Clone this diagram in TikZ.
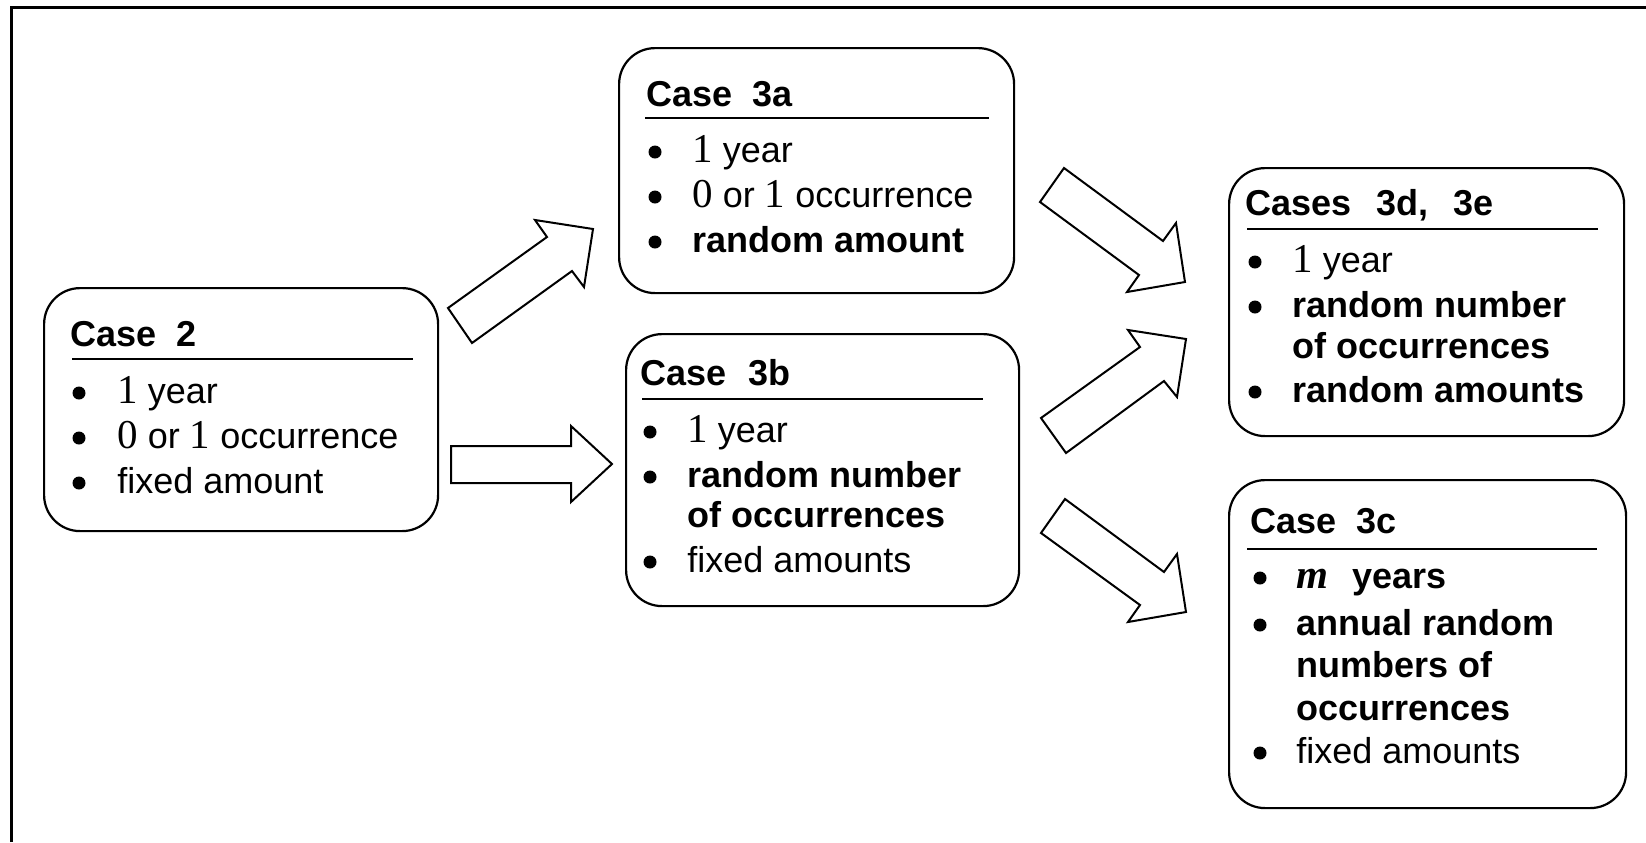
\documentclass[tikz,border=0pt]{standalone}
\usepackage{fontspec}
\setmainfont{Liberation Sans}
\newfontfamily\numfont{Liberation Serif}
% serif figures and symbols inside the sans text
\newcommand\nm[1]{{\numfont\fontsize{20.5pt}{24pt}\selectfont #1}}

\begin{document}
\begin{tikzpicture}[
  x=0.5pt, y=-0.5pt,
  font=\fontsize{18pt}{22pt}\selectfont,
  casebox/.style={draw, line width=1.1pt, rounded corners=18pt, anchor=north west, inner sep=0pt},
  ttl/.style={anchor=base west, inner sep=0pt, font=\fontsize{18pt}{22pt}\selectfont\bfseries},
  itm/.style={anchor=base west, inner sep=0pt},
  bul/.style={circle, fill, inner sep=0pt, minimum size=6.5pt},
  hrule/.style={line width=1pt},
  blockarrow/.style={draw, line width=1pt, line join=miter, fill=white},
  frameline/.style={line width=1.5pt}
]
\useasboundingbox (0,0) rectangle (1646,842);

% outer frame
\draw[frameline] (11,842) -- (11,7) -- (1646,7);

% ---------- Case 2 ----------
\node[casebox, minimum width=197pt, minimum height=121.5pt] (c2) at (43,287) {};
\node[ttl] (c2t) at (70,346) {Case\hspace{10pt}2};
\draw[hrule] (72,359) -- (413,359);
\node[bul] (c2b1) at (79,393) {};
\node[itm] (c2i1) at (117,403) {\nm{1} year};
\node[bul] (c2b2) at (79,438) {};
\node[itm] (c2i2) at (117,448) {\nm{0} or \nm{1} occurrence};
\node[bul] (c2b3) at (79,483) {};
\node[itm] (c2i3) at (117,493) {fixed amount};

% ---------- Case 3a ----------
\node[casebox, minimum width=197.5pt, minimum height=122.5pt] (c3a) at (618,47) {};
\node[ttl] (c3at) at (646,106) {Case\hspace{10pt}3a};
\draw[hrule] (645,118) -- (989,118);
\node[bul] (c3ab1) at (655,152) {};
\node[itm] (c3ai1) at (692,162) {\nm{1} year};
\node[bul] (c3ab2) at (655,197) {};
\node[itm] (c3ai2) at (692,207) {\nm{0} or \nm{1} occurrence};
\node[bul] (c3ab3) at (655,242) {};
\node[itm] (c3ai3) at (692,252) {\bfseries random amount};

% ---------- Case 3b ----------
\node[casebox, minimum width=196.5pt, minimum height=136pt] (c3b) at (625,333) {};
\node[ttl] (c3bt) at (640,385) {Case\hspace{11pt}3b};
\draw[hrule] (642,399) -- (983,399);
\node[bul] (c3bb1) at (650,432) {};
\node[itm] (c3bi1) at (687,442) {\nm{1} year};
\node[bul] (c3bb2) at (650,477) {};
\node[itm] (c3bi2) at (687,487) {\bfseries random number};
\node[itm] (c3bi3) at (687,527) {\bfseries of occurrences};
\node[bul] (c3bb4) at (650,562) {};
\node[itm] (c3bi4) at (687,572) {fixed amounts};

% ---------- Cases 3d, 3e ----------
\node[casebox, minimum width=197.5pt, minimum height=134pt] (c3d) at (1228,167) {};
\node[ttl] (c3dt) at (1245,215) {Cases\hspace{12.5pt}3d,\hspace{12.5pt}3e};
\draw[hrule] (1247,229) -- (1598,229);
\node[bul] (c3db1) at (1255,262) {};
\node[itm] (c3di1) at (1292,272) {\nm{1} year};
\node[bul] (c3db2) at (1255,307) {};
\node[itm] (c3di2) at (1292,317) {\bfseries random number};
\node[itm] (c3di3) at (1292,358) {\bfseries of occurrences};
\node[bul] (c3db4) at (1255,392) {};
\node[itm] (c3di4) at (1292,402) {\bfseries random amounts};

% ---------- Case 3c ----------
\node[casebox, minimum width=198.5pt, minimum height=164pt] (c3c) at (1228,479) {};
\node[ttl] (c3ct) at (1250,533) {Case\hspace{10pt}3c};
\draw[hrule] (1247,549) -- (1597,549);
\node[bul] (c3cb1) at (1260,578) {};
\node[itm] (c3ci1) at (1296,588) {\nm{\bfseries\itshape m}\hspace{12pt}\bfseries years};
\node[bul] (c3cb2) at (1260,625) {};
\node[itm] (c3ci2) at (1296,635) {\bfseries annual random};
\node[itm] (c3ci3) at (1296,677) {\bfseries numbers of};
\node[itm] (c3ci4) at (1296,720) {\bfseries occurrences};
\node[bul] (c3cb5) at (1260,753) {};
\node[itm] (c3ci5) at (1296,763) {fixed amounts};

% ---------- block arrows ----------
% Case 2 -> Case 3a
\draw[blockarrow] (472,343) -- (448,308) -- (547,237) -- (535,220) -- (593,229)
  -- (584,287) -- (572,271) -- cycle;
% Case 2 -> Case 3b
\draw[blockarrow] (451,446) -- (571,446) -- (571,426) -- (612,464) -- (571,502)
  -- (571,483) -- (451,483) -- cycle;
% Case 3a -> Cases 3d, 3e
\draw[blockarrow] (1064,168) -- (1040,202) -- (1139,275) -- (1127,292) -- (1185,282)
  -- (1176,223) -- (1163,241) -- cycle;
% Case 3b -> Cases 3d, 3e
\draw[blockarrow] (1041,418) -- (1066,453) -- (1164,381) -- (1177,397) -- (1186,339)
  -- (1128,330) -- (1140,347) -- cycle;
% Case 3b -> Case 3c
\draw[blockarrow] (1065,499) -- (1041,533) -- (1140,605) -- (1128,622) -- (1186,612)
  -- (1177,554) -- (1164,572) -- cycle;
\end{tikzpicture}
\end{document}
